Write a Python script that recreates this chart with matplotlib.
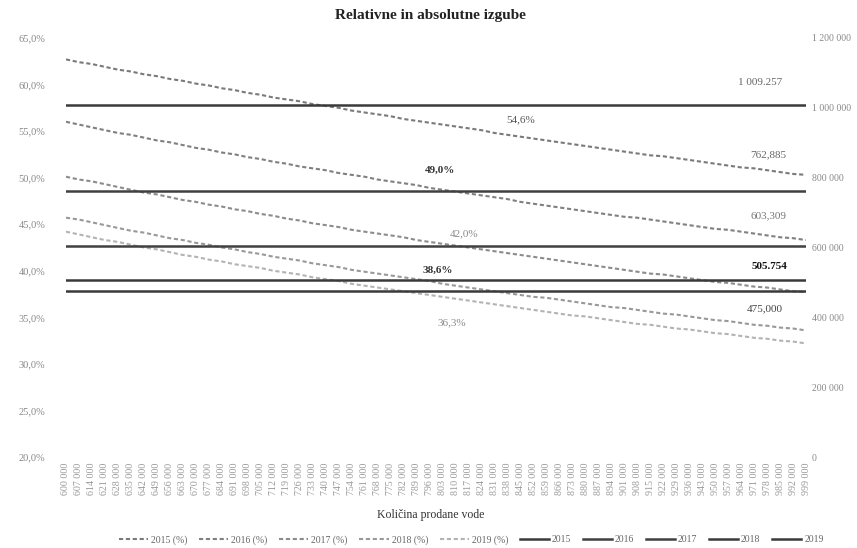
import matplotlib
matplotlib.use("Agg")
import matplotlib.pyplot as plt
from matplotlib.ticker import FuncFormatter

plt.rcParams['font.family'] = ['Liberation Serif', 'DejaVu Serif']

# kolicina prodane vode (kategorije na osi x)
kolicina = list(range(600000, 1000000, 7000))
leta = ['2015', '2016', '2017', '2018', '2019']

# absolutne izgube po letih (desna os)
abs_izgube = [1009257, 762885, 603309, 505754, 475000]

# relativne izgube v % (leva os), odcitane s slike
rel_2015 = [62.7, 62.4, 62.2, 61.9, 61.6, 61.4, 61.1, 60.9, 60.6, 60.4,
            60.1, 59.9, 59.6, 59.4, 59.1, 58.9, 58.6, 58.4, 58.2, 57.9,
            57.7, 57.5, 57.2, 57.0, 56.8, 56.6, 56.3, 56.1, 55.9, 55.7,
            55.5, 55.3, 55.1, 54.8, 54.6, 54.4, 54.2, 54.0, 53.8, 53.6,
            53.4, 53.2, 53.0, 52.8, 52.6, 52.4, 52.3, 52.1, 51.9, 51.7,
            51.5, 51.3, 51.1, 51.0, 50.8, 50.6, 50.4, 50.3]
rel_2016 = [56.0, 55.7, 55.4, 55.1, 54.8, 54.6, 54.3, 54.0, 53.8, 53.5,
            53.2, 53.0, 52.7, 52.5, 52.2, 52.0, 51.7, 51.5, 51.2, 51.0,
            50.8, 50.5, 50.3, 50.1, 49.8, 49.6, 49.4, 49.2, 48.9, 48.7,
            48.5, 48.3, 48.1, 47.9, 47.7, 47.4, 47.2, 47.0, 46.8, 46.6,
            46.4, 46.2, 46.0, 45.8, 45.7, 45.5, 45.3, 45.1, 44.9, 44.7,
            44.5, 44.4, 44.2, 44.0, 43.8, 43.6, 43.5, 43.3]
rel_2017 = [50.1, 49.8, 49.6, 49.3, 49.0, 48.7, 48.4, 48.2, 47.9, 47.6,
            47.4, 47.1, 46.9, 46.6, 46.4, 46.1, 45.9, 45.6, 45.4, 45.1,
            44.9, 44.7, 44.4, 44.2, 44.0, 43.8, 43.6, 43.3, 43.1, 42.9,
            42.7, 42.5, 42.3, 42.1, 41.9, 41.7, 41.5, 41.3, 41.1, 40.9,
            40.7, 40.5, 40.3, 40.1, 39.9, 39.7, 39.6, 39.4, 39.2, 39.0,
            38.8, 38.7, 38.5, 38.3, 38.2, 38.0, 37.8, 37.7]
rel_2018 = [45.7, 45.5, 45.2, 44.9, 44.6, 44.3, 44.1, 43.8, 43.5, 43.3,
            43.0, 42.8, 42.5, 42.3, 42.0, 41.8, 41.5, 41.3, 41.1, 40.8,
            40.6, 40.4, 40.1, 39.9, 39.7, 39.5, 39.3, 39.1, 38.9, 38.6,
            38.4, 38.2, 38.0, 37.8, 37.6, 37.4, 37.2, 37.1, 36.9, 36.7,
            36.5, 36.3, 36.1, 36.0, 35.8, 35.6, 35.4, 35.3, 35.1, 34.9,
            34.7, 34.6, 34.4, 34.2, 34.1, 33.9, 33.8, 33.6]
rel_2019 = [44.2, 43.9, 43.6, 43.3, 43.1, 42.8, 42.5, 42.3, 42.0, 41.7,
            41.5, 41.2, 41.0, 40.7, 40.5, 40.3, 40.0, 39.8, 39.6, 39.3,
            39.1, 38.9, 38.6, 38.4, 38.2, 38.0, 37.8, 37.6, 37.4, 37.2,
            37.0, 36.8, 36.6, 36.4, 36.2, 36.0, 35.8, 35.6, 35.4, 35.2,
            35.1, 34.9, 34.7, 34.5, 34.3, 34.2, 34.0, 33.8, 33.7, 33.5,
            33.3, 33.2, 33.0, 32.8, 32.7, 32.5, 32.4, 32.2]
rel = [rel_2015, rel_2016, rel_2017, rel_2018, rel_2019]

# oznake vrednosti
rel_oznake = ['54,6%', '49,0%', '42,0%', '38,6%', '36,3%']
abs_oznake = ['1 009.257', '762,885', '603,309', '505.754', '475,000']

dash_barve = ['#7a7a7a', '#808080', '#8c8c8c', '#999999', '#b3b3b3']
crta_barve = ['#3a3a3a', '#404040', '#404040', '#3a3a3a', '#3a3a3a']

fig = plt.figure(figsize=(8.57, 5.48), dpi=100)
ax = fig.add_axes([0.077, 0.166, 0.8635, 0.7647])
ax2 = ax.twinx()

x = list(range(len(kolicina)))
handles = []
for i in range(5):
    h, = ax.plot(x, rel[i], color=dash_barve[i], lw=1.5, ls=(0, (2, 1.3)),
                 label=leta[i] + ' (%)')
    handles.append(h)
for i in range(5):
    h, = ax2.plot(x, [abs_izgube[i]] * len(x), color=crta_barve[i], lw=1.8,
                  label=leta[i])
    handles.append(h)

ax.set_xlim(0, len(x) - 1)
ax.set_ylim(20, 65)
ax2.set_ylim(0, 1200000)
ax.set_yticks([20, 25, 30, 35, 40, 45, 50, 55, 60, 65])
ax2.set_yticks([0, 200000, 400000, 600000, 800000, 1000000, 1200000])
ax.yaxis.set_major_formatter(FuncFormatter(lambda v, p: f"{v:.1f}%".replace('.', ',')))
ax2.yaxis.set_major_formatter(FuncFormatter(lambda v, p: f"{int(v):,}".replace(',', ' ')))
ax.set_xticks(x)
ax.set_xticklabels([f"{k:,}".replace(',', ' ') for k in kolicina], rotation=90,
                   fontsize=7.2, color='#999999')

for a in (ax, ax2):
    for s in a.spines.values():
        s.set_visible(False)
    a.tick_params(length=0)
ax.tick_params(axis='y', labelsize=7.5, colors='#888888', pad=15)
ax2.tick_params(axis='y', labelsize=7, colors='#888888', pad=4)
ax.tick_params(axis='x', pad=4)

# oznake relativnih izgub (polozaj: indeks kategorije, %)
rel_pos = [(35.0, 56.2), (28.8, 50.8), (30.7, 44.0), (28.6, 40.0), (29.7, 34.4)]
rel_barve = ['#555555', '#333333', '#8a8a8a', '#333333', '#8a8a8a']
rel_teza = ['normal', 'bold', 'normal', 'bold', 'normal']
for i in range(5):
    ax.text(rel_pos[i][0], rel_pos[i][1], rel_oznake[i], ha='center', va='center',
            fontsize=8, color=rel_barve[i], fontweight=rel_teza[i])

abs_pos = [(53.5, 60.2), (54.1, 52.5), (54.1, 45.9), (54.2, 40.5), (53.8, 35.9)]
abs_barve = ['#666666', '#666666', '#777777', '#111111', '#444444']
abs_teza = ['normal', 'normal', 'normal', 'bold', 'normal']
for i in range(5):
    ax.text(abs_pos[i][0], abs_pos[i][1], abs_oznake[i], ha='center', va='center',
            fontsize=8, color=abs_barve[i], fontweight=abs_teza[i])

fig.text(0.502, 0.972, 'Relativne in absolutne izgube', ha='center', va='center',
         fontsize=11, fontweight='bold', color='#222222')
fig.text(0.502, 0.060, 'Količina prodane vode', ha='center', va='center',
         fontsize=8.5, color='#333333')

fig.legend(handles=handles, loc='center', bbox_to_anchor=(0.55, 0.015), ncol=10,
           frameon=False, fontsize=7, handlelength=3.0, handletextpad=0.3,
           columnspacing=1.2, labelcolor='#666666')

fig.savefig('out.png', dpi=100)
